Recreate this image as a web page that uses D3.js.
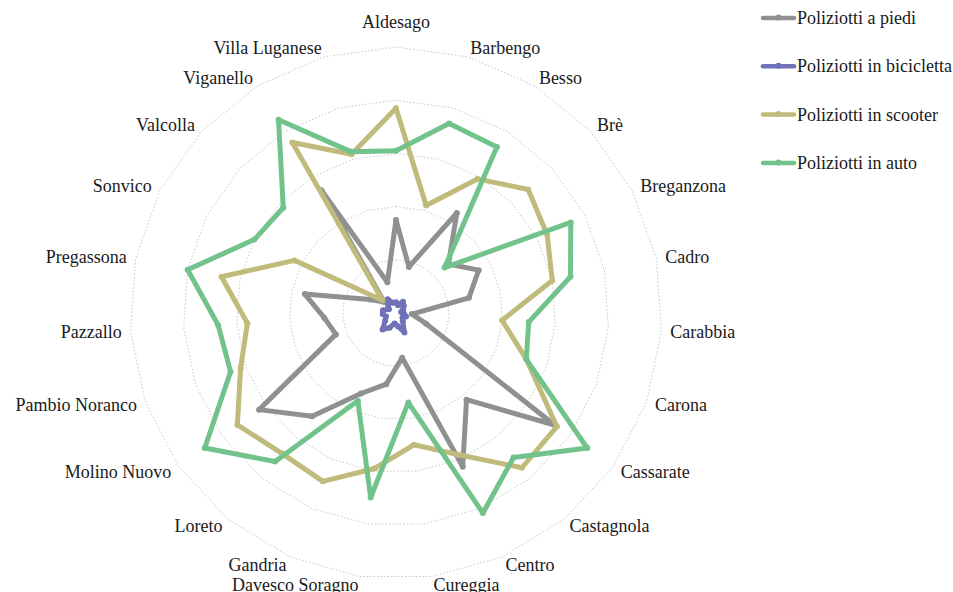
<!DOCTYPE html>
<html>
<head>
<meta charset="utf-8">
<title>Poliziotti per quartiere</title>
<script src="https://cdn.jsdelivr.net/npm/d3@7"></script>
<style>
	body { margin: 0; background: #fff; }
	svg text { font-family: "Liberation Serif", "DejaVu Serif", serif; fill: #1a1a1a; }
</style>
</head>
<body>
<div id="chart"></div>
<script>
/*
 * Radar chart: number of police officers per Lugano district,
 * one closed line for each kind of patrol.
 */

// Categories (clockwise from the top)
var quartieri = ["Aldesago", "Barbengo", "Besso", "Brè", "Breganzona", "Cadro",
	"Carabbia", "Carona", "Cassarate", "Castagnola", "Centro", "Cureggia",
	"Davesco Soragno", "Gandria", "Loreto", "Molino Nuovo", "Pambio Noranco",
	"Pazzallo", "Pregassona", "Sonvico", "Valcolla", "Viganello", "Villa Luganese"];

var serieNomi = ["Poliziotti a piedi", "Poliziotti in bicicletta", "Poliziotti in scooter", "Poliziotti in auto"];

// Values (outer ring = 100)
var aPiedi = [35, 18, 44, 27, 35, 28, 6, 12, 73, 42, 63, 17, 27, 33, 50, 63, 24, 27, 35, 11, 6, 54, 12];
var inBicicletta = [4, 3, 5, 4, 3, 2, 3, 4, 3, 4, 8, 5, 4, 6, 8, 5, 4, 5, 5, 3, 4, 6, 4];
var inScooter = [77, 42, 59, 68, 64, 60, 40, 52, 74, 75, 58, 50, 59, 69, 68, 73, 62, 56, 67, 43, 7, 75, 62];
var inAuto = [61, 74, 73, 25, 74, 67, 50, 52, 88, 70, 82, 34, 70, 36, 72, 88, 66, 67, 80, 60, 58, 85, 63];

var colori = ["#8e918f", "#7072b8", "#c0bb7b", "#72c28c"];
var livelli = [20, 40, 60, 80, 100];

function drawRadar() {
	var w = 953, h = 592,
	cx = 396, cy = 313, // centre of the radar
	R = 266; // radius of the outer ring

	var svg = d3.select("#chart").append("svg").attr("width", w).attr("height", h);

	var n = quartieri.length;
	var r = d3.scaleLinear().domain([0, 100]).range([0, R]);
	var angolo = d3.scaleLinear().domain([0, n]).range([0, 2 * Math.PI]);

	var g = svg.append("g").attr("transform", "translate(" + cx + "," + cy + ")");

	// dotted polygon rings
	var ring = d3.lineRadial()
		.angle(function(d, i) { return angolo(i); })
		.radius(function(d) { return r(d); })
		.curve(d3.curveLinearClosed);

	g.selectAll("path.ring").data(livelli).enter().append("path")
		.attr("class", "ring")
		.attr("d", function(l) { return ring(quartieri.map(function() { return l; })); })
		.attr("fill", "none")
		.attr("stroke", "#c8c8c8")
		.attr("stroke-width", 1)
		.attr("stroke-dasharray", "1.5,2");

	// category labels
	g.selectAll("text.label").data(quartieri).enter().append("text")
		.attr("class", "label")
		.attr("x", function(d, i) { return (R + 9) * Math.sin(angolo(i)); })
		.attr("y", function(d, i) {
			var c = Math.cos(angolo(i));
			return -(R + 9) * c - (c > 0.99 ? 16 : 0);
		})
		.attr("dominant-baseline", "central")
		.attr("text-anchor", function(d, i) {
			var s = Math.sin(angolo(i));
			return Math.abs(s) < 0.05 ? "middle" : (s > 0 ? "start" : "end");
		})
		.style("font-size", "18px")
		.text(function(d) { return d; });

	// the four series
	var serie = [aPiedi, inBicicletta, inScooter, inAuto];
	var linea = d3.lineRadial()
		.angle(function(d, i) { return angolo(i); })
		.radius(function(d) { return r(d); })
		.curve(d3.curveLinearClosed);

	serie.forEach(function(valori, k) {
		var sg = g.append("g").attr("class", "serie");
		sg.append("path")
			.attr("d", linea(valori))
			.attr("fill", "none")
			.attr("stroke", colori[k])
			.attr("stroke-width", 5)
			.attr("stroke-linejoin", "round");
		sg.selectAll("circle").data(valori).enter().append("circle")
			.attr("cx", function(d, i) { return r(d) * Math.sin(angolo(i)); })
			.attr("cy", function(d, i) { return -r(d) * Math.cos(angolo(i)); })
			.attr("r", 3)
			.attr("fill", colori[k]);
	});

	// legend, top right
	var leg = svg.append("g").attr("transform", "translate(763,18)");
	var voci = leg.selectAll("g").data(serieNomi).enter().append("g")
		.attr("transform", function(d, i) { return "translate(0," + (i * 48.3) + ")"; });
	voci.append("line")
		.attr("x1", 0).attr("x2", 31).attr("y1", 0).attr("y2", 0)
		.attr("stroke", function(d, i) { return colori[i]; })
		.attr("stroke-width", 4.5)
		.attr("stroke-linecap", "round");
	voci.append("circle")
		.attr("cx", 15.5).attr("cy", -0.5).attr("r", 3)
		.attr("fill", function(d, i) { return colori[i]; });
	voci.append("text")
		.attr("x", 34).attr("y", 0)
		.attr("dominant-baseline", "central")
		.style("font-size", "18px")
		.text(function(d) { return d; });
}

drawRadar();
</script>
</body>
</html>
